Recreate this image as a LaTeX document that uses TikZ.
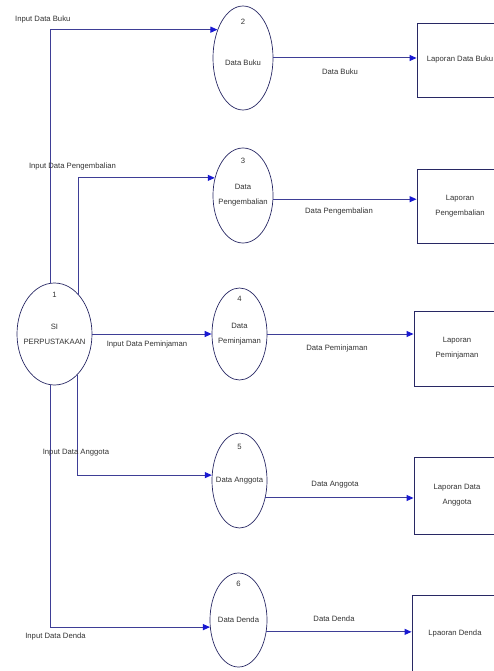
\documentclass[tikz,border=0pt]{standalone}
\usepackage{fontspec}
\setmainfont{Liberation Sans}
\usetikzlibrary{shapes.geometric,arrows.meta,positioning}
\definecolor{flowline}{RGB}{62,62,150}
\definecolor{tipblue}{RGB}{25,25,210}
\definecolor{procline}{RGB}{40,40,100}

\begin{document}
\begin{tikzpicture}[x=1pt,y=-1pt,
  proc/.style={draw=procline, line width=0.7pt, ellipse, inner sep=0pt},
  store/.style={draw=procline, line width=0.9pt, rectangle, minimum width=86pt, minimum height=74pt},
  txt/.style={font=\fontsize{7.7}{15}\selectfont, text=black!80, align=center, inner sep=0pt},
  flow/.style={draw=flowline, line width=1pt, -{Triangle[length=7pt,width=6pt,color=tipblue]}}]
  \useasboundingbox (0,0) rectangle (494,671);
  \clip (0,0) rectangle (494,671);

  \node[proc, minimum width=75pt, minimum height=102pt] (p1) at (54.5,334) {};
  \node[txt] (p1txt) at (p1) {SI\\PERPUSTAKAAN};
  \node[txt, below=9pt of p1.north] (p1num) {1};

  \node[proc, minimum width=60pt, minimum height=104pt] (p2) at (243,58) {};
  \node[txt] (p2txt) at (243,63) {Data Buku};
  \node[txt, below=13pt of p2.north] (p2num) {2};

  \node[proc, minimum width=60pt, minimum height=95pt] (p3) at (243,195.5) {};
  \node[txt] (p3txt) at (p3) {Data\\Pengembalian};
  \node[txt, below=10pt of p3.north] (p3num) {3};

  \node[proc, minimum width=55pt, minimum height=92pt] (p4) at (239.5,334) {};
  \node[txt] (p4txt) at (p4) {Data\\Peminjaman};
  \node[txt, below=8pt of p4.north] (p4num) {4};

  \node[proc, minimum width=55pt, minimum height=95pt] (p5) at (239.5,480.5) {};
  \node[txt] (p5txt) at (p5) {Data Anggota};
  \node[txt, below=11pt of p5.north] (p5num) {5};

  \node[proc, minimum width=57pt, minimum height=94pt] (p6) at (238.5,620) {};
  \node[txt] (p6txt) at (p6) {Data Denda};
  \node[txt, below=8pt of p6.north] (p6num) {6};

  \node[store, txt] (b2) at (460,60) {Laporan Data Buku};
  \node[store, txt] (b3) at (460,206) {Laporan\\Pengembalian};
  \node[store, txt, minimum height=75pt] (b4) at (457,348.5) {Laporan\\Peminjaman};
  \node[store, txt, minimum height=77pt] (b5) at (457,495.5) {Laporan Data\\Anggota};
  \node[store, txt, minimum height=78pt] (b6) at (455,634) {Lpaoran Denda};

  \draw[flow] (p1.95) |- (p2.132);
  \draw[flow] (p1.58) |- (p3.148);
  \draw[flow] (p1.east) -- (p4.west);
  \draw[flow] (p1.-61) |- (p5.169);
  \draw[flow] (p1.265) |- (p6.194);

  \draw[flow] (p2.east) -- (p2.east -| b2.west);
  \draw[flow] (p3.-7) -- (p3.-7 -| b3.west);
  \draw[flow] (p4.east) -- (p4.east -| b4.west);
  \draw[flow] (p5.-34) -- (p5.-34 -| b5.west);
  \draw[flow] (p6.-23) -- (p6.-23 -| b6.west);

  \node[txt, anchor=west] (l2) at (15,20) {Input Data Buku};
  \node[txt] (l3) at (72.5,167) {Input Data Pengembalian};
  \node[txt] (l4) at (147,345) {Input Data Peminjaman};
  \node[txt] (l5) at (76,453) {Input Data Anggota};
  \node[txt] (l6) at (55.5,637) {Input Data Denda};

  \node[txt] (o2) at (340,72) {Data Buku};
  \node[txt] (o3) at (339,212) {Data Pengembalian};
  \node[txt] (o4) at (337,349) {Data Peminjaman};
  \node[txt] (o5) at (335,485) {Data Anggota};
  \node[txt] (o6) at (334,619) {Data Denda};
\end{tikzpicture}
\end{document}
